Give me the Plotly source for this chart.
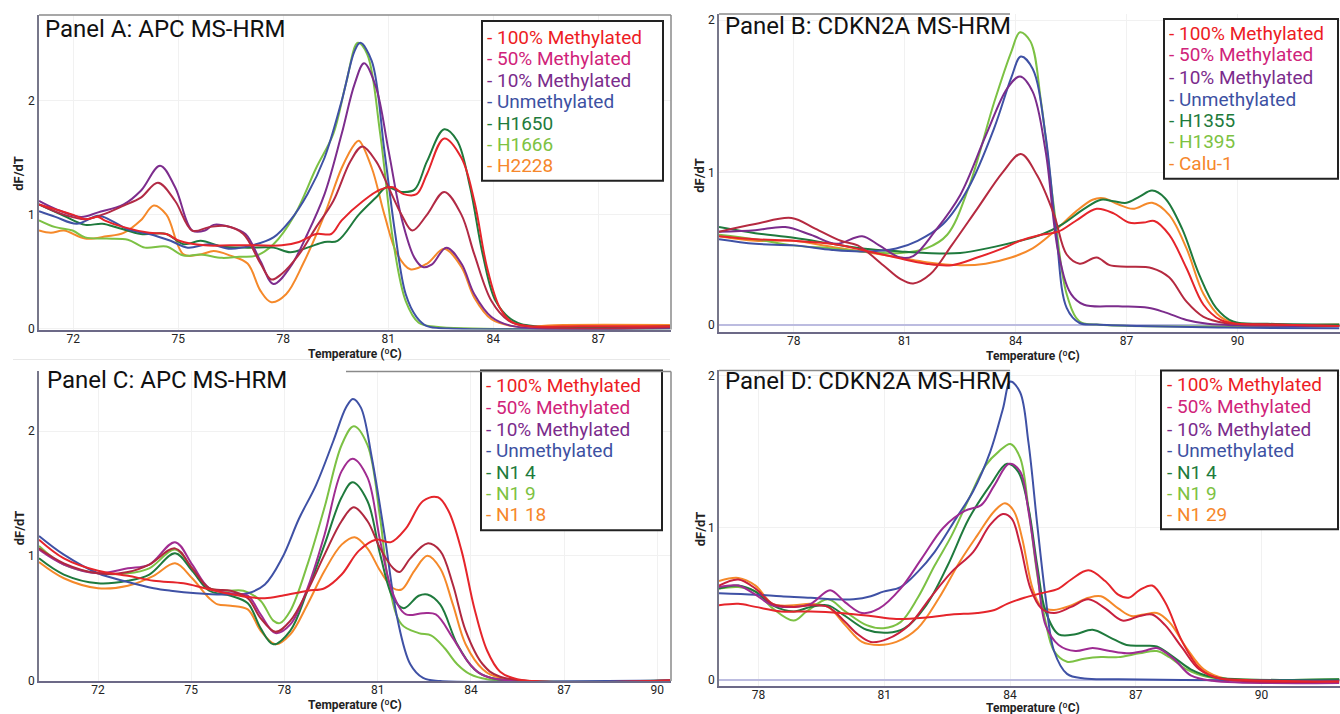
import plotly.graph_objects as go

# layout positions are measured on the 1340x714 reference; paper fractions use REF_H
W, REF_H = 1340, 714
H = 722   # the captured page is rendered slightly taller than the window and scaled to 714

# ---------------- labels / ticks ----------------
A_LABELS = ["100% Methylated", "50% Methylated", "10% Methylated", "Unmethylated", "H1650", "H1666", "H2228"]
B_LABELS = ["100% Methylated", "50% Methylated", "10% Methylated", "Unmethylated", "H1355", "H1395", "Calu-1"]
C_LABELS = ["100% Methylated", "50% Methylated", "10% Methylated", "Unmethylated", "N1 4", "N1 9", "N1 18"]
D_LABELS = ["100% Methylated", "50% Methylated", "10% Methylated", "Unmethylated", "N1 4", "N1 9", "N1 29"]
TITLES = ["Panel A: APC MS-HRM", "Panel B: CDKN2A MS-HRM", "Panel C: APC MS-HRM", "Panel D: CDKN2A MS-HRM"]
A_XTICKS = [72, 75, 78, 81, 84, 87]
B_XTICKS = [78, 81, 84, 87, 90]
C_XTICKS = [72, 75, 78, 81, 84, 87, 90]
D_XTICKS = [78, 81, 84, 87, 90]
Y_TICKS = [0, 1, 2]

# ---------------- Panel A (temperature, dF/dT) ----------------
A_100 = [(71.02,1.09),(71.98,1.0),(72.34,0.96),(72.71,0.98),(72.89,0.95),(73.44,0.89),(74.17,0.84),(74.66,0.83),(75.03,0.77),(75.76,0.73),(76.49,0.73),(77.23,0.73),(77.96,0.73),(78.45,0.76),(78.94,0.83),(79.37,0.83),(79.67,0.95),(80.28,1.12),(80.77,1.22),(81.14,1.24),(81.44,1.18),(81.81,1.18),(82.11,1.36),(82.60,1.67),(83.09,1.50),(83.46,1.12),(83.82,0.54),(84.19,0.18),(84.56,0.05),(85.04,0.02),(86.5,0.02),(89.05,0.02)]
A_50 = [(71.02,1.09),(71.73,1.0),(72.34,0.96),(72.83,1.0),(73.44,1.08),(73.93,1.15),(74.42,1.28),(74.91,1.12),(75.40,0.86),(75.88,0.89),(76.37,0.90),(76.86,0.83),(77.35,0.57),(77.66,0.43),(77.96,0.48),(78.45,0.65),(78.94,0.89),(79.43,1.12),(79.92,1.47),(80.26,1.60),(80.65,1.47),(81.01,1.24),(81.38,1.0),(81.69,0.86),(82.11,1.0),(82.60,1.20),(83.09,1.0),(83.46,0.65),(83.95,0.24),(84.43,0.07),(84.92,0.02),(89.05,0.01)]
A_10 = [(71.02,1.12),(71.49,1.05),(72.22,0.98),(72.71,1.02),(73.44,1.09),(73.93,1.21),(74.48,1.43),(74.91,1.24),(75.40,0.86),(75.76,0.86),(76.01,0.91),(76.49,0.89),(76.92,0.83),(77.35,0.59),(77.72,0.39),(78.20,0.54),(78.69,0.83),(79.18,1.18),(79.67,1.71),(80.04,2.15),(80.31,2.33),(80.65,2.12),(81.01,1.56),(81.38,0.97),(81.75,0.62),(81.99,0.54),(82.24,0.56),(82.66,0.71),(83.09,0.57),(83.46,0.30),(83.95,0.10),(84.56,0.02),(89.05,0.01)]
A_UN = [(71.02,1.03),(71.49,0.98),(72.10,0.92),(72.71,0.99),(73.07,0.95),(73.56,0.87),(74.17,0.83),(74.78,0.77),(75.27,0.71),(75.88,0.74),(76.49,0.70),(77.11,0.73),(77.72,0.80),(78.20,0.95),(78.69,1.18),(79.18,1.50),(79.67,2.0),(80.04,2.44),(80.20,2.51),(80.53,2.35),(80.89,1.56),(81.20,0.83),(81.50,0.30),(81.81,0.10),(82.11,0.02),(82.72,0.0),(89.05,0.0)]
A_S1 = [(71.02,1.09),(71.73,0.99),(72.34,0.91),(72.83,0.92),(73.32,0.88),(73.93,0.83),(74.66,0.83),(75.15,0.74),(75.64,0.77),(76.25,0.72),(76.98,0.71),(77.72,0.71),(78.20,0.67),(78.69,0.71),(79.18,0.76),(79.55,0.77),(80.16,1.0),(80.65,1.15),(80.95,1.24),(81.38,1.20),(81.75,1.22),(82.11,1.47),(82.60,1.75),(82.97,1.65),(83.34,1.24),(83.70,0.65),(84.07,0.24),(84.56,0.07),(85.17,0.02),(89.05,0.02)]
A_S2 = [(71.02,0.95),(71.49,0.89),(71.98,0.86),(72.34,0.80),(72.95,0.79),(73.56,0.78),(74.05,0.71),(74.66,0.72),(75.15,0.64),(75.64,0.65),(76.25,0.62),(76.74,0.63),(77.23,0.64),(77.72,0.74),(78.33,1.0),(78.94,1.41),(79.43,1.71),(79.79,2.15),(80.13,2.51),(80.40,2.41),(80.77,1.71),(81.14,0.77),(81.50,0.24),(81.87,0.05),(82.36,0.015),(89.05,0.0)]
A_S3 = [(71.02,0.86),(71.36,0.84),(71.73,0.86),(72.34,0.79),(72.95,0.81),(73.44,0.84),(73.93,0.95),(74.30,1.08),(74.66,1.0),(75.15,0.65),(75.64,0.65),(76.01,0.68),(76.49,0.64),(76.98,0.57),(77.35,0.33),(77.66,0.23),(78.08,0.30),(78.57,0.57),(79.18,1.0),(79.67,1.41),(80.04,1.62),(80.16,1.65),(80.53,1.41),(80.89,1.0),(81.26,0.65),(81.63,0.52),(82.11,0.57),(82.60,0.70),(83.09,0.54),(83.46,0.27),(83.95,0.08),(84.56,0.02),(86.0,0.03),(89.05,0.03)]

# ---------------- Panel B ----------------
B_100 = [(75.98,0.58),(76.96,0.56),(78.0,0.55),(79.04,0.53),(79.85,0.49),(80.77,0.44),(81.58,0.40),(82.27,0.39),(82.96,0.44),(83.65,0.50),(84.12,0.55),(84.69,0.59),(85.15,0.61),(85.62,0.68),(86.19,0.76),(86.65,0.73),(87.06,0.67),(87.46,0.67),(87.75,0.68),(88.15,0.59),(88.62,0.37),(89.08,0.13),(89.54,0.03),(90.0,0.005),(90.81,0.0),(92.75,-0.01)]
B_50 = [(75.98,0.61),(76.96,0.66),(77.94,0.70),(78.58,0.63),(79.27,0.55),(79.73,0.52),(80.42,0.39),(80.88,0.30),(81.23,0.27),(81.69,0.33),(82.27,0.52),(82.96,0.76),(83.65,1.0),(84.14,1.12),(84.58,0.98),(85.04,0.72),(85.38,0.46),(85.73,0.40),(86.19,0.44),(86.54,0.39),(87.0,0.38),(87.69,0.37),(88.15,0.31),(88.62,0.15),(89.08,0.05),(89.65,0.01),(90.81,0.0),(92.75,-0.01)]
B_10 = [(75.98,0.61),(76.96,0.62),(77.77,0.64),(78.46,0.59),(79.15,0.53),(79.85,0.58),(80.31,0.52),(80.88,0.44),(81.23,0.45),(81.81,0.61),(82.50,0.85),(83.19,1.24),(83.77,1.55),(84.12,1.63),(84.46,1.53),(84.81,1.14),(85.15,0.48),(85.50,0.20),(85.85,0.13),(86.77,0.12),(87.58,0.11),(88.04,0.08),(88.62,0.03),(89.19,0.005),(90.0,-0.005),(92.75,-0.01)]
B_UN = [(75.98,0.56),(76.96,0.53),(78.0,0.52),(79.04,0.49),(79.85,0.48),(80.77,0.50),(81.35,0.55),(82.04,0.66),(82.73,0.90),(83.42,1.29),(83.88,1.62),(84.14,1.76),(84.46,1.68),(84.81,1.24),(85.10,0.59),(85.38,0.11),(85.73,0.01),(86.19,0.0),(87.35,-0.01),(89.65,-0.02),(92.75,-0.025)]
B_S1 = [(75.98,0.64),(76.96,0.60),(78.0,0.57),(79.04,0.53),(79.85,0.50),(80.88,0.48),(81.58,0.47),(82.50,0.47),(83.42,0.51),(84.12,0.55),(84.69,0.59),(85.27,0.66),(85.85,0.76),(86.31,0.82),(86.65,0.81),(87.0,0.80),(87.35,0.84),(87.69,0.88),(88.04,0.83),(88.50,0.63),(88.96,0.33),(89.42,0.11),(89.88,0.02),(90.81,0.005),(92.75,0.0)]
B_S2 = [(75.98,0.59),(76.96,0.56),(78.0,0.52),(79.04,0.50),(79.85,0.48),(80.88,0.47),(81.58,0.50),(82.15,0.59),(82.73,0.90),(83.42,1.46),(83.88,1.79),(84.12,1.92),(84.40,1.86),(84.69,1.46),(85.04,0.76),(85.38,0.20),(85.73,0.02),(86.19,0.0),(92.75,-0.01)]
B_S3 = [(75.98,0.58),(76.96,0.55),(78.0,0.55),(79.04,0.51),(79.85,0.48),(80.88,0.44),(81.58,0.41),(82.50,0.39),(83.19,0.40),(83.88,0.44),(84.46,0.50),(85.04,0.61),(85.62,0.74),(86.08,0.82),(86.37,0.83),(86.77,0.79),(87.17,0.76),(87.69,0.80),(88.15,0.72),(88.62,0.50),(89.08,0.20),(89.54,0.05),(90.0,0.01),(92.75,0.0)]

# ---------------- Panel C ----------------
C_100 = [(70.10,1.13),(70.90,0.98),(72.0,0.88),(72.96,0.84),(73.79,0.80),(74.75,0.78),(75.44,0.74),(76.13,0.70),(76.82,0.67),(77.37,0.66),(77.92,0.68),(78.74,0.72),(79.29,0.74),(79.84,0.85),(80.39,1.04),(80.94,1.13),(81.43,1.11),(81.91,1.22),(82.46,1.44),(82.94,1.47),(83.28,1.36),(83.70,1.04),(84.11,0.58),(84.52,0.24),(84.94,0.07),(85.49,0.01),(90.41,0.0)]
C_50 = [(70.10,1.06),(70.90,0.94),(72.0,0.86),(72.96,0.87),(73.65,0.93),(74.48,1.06),(75.03,0.90),(75.58,0.74),(76.27,0.72),(76.82,0.66),(77.23,0.50),(77.71,0.39),(78.19,0.48),(78.74,0.72),(79.29,1.01),(79.84,1.28),(80.23,1.39),(80.67,1.28),(81.08,1.06),(81.50,0.90),(81.70,0.87),(82.05,0.98),(82.60,1.10),(83.01,1.04),(83.42,0.77),(83.83,0.40),(84.38,0.13),(84.94,0.03),(90.41,0.0)]
C_10 = [(70.10,1.05),(70.90,0.93),(72.0,0.86),(72.96,0.90),(73.65,0.93),(74.48,1.11),(75.03,0.93),(75.58,0.74),(76.27,0.70),(76.82,0.68),(77.23,0.53),(77.71,0.38),(78.19,0.45),(78.74,0.74),(79.29,1.17),(79.84,1.68),(80.19,1.78),(80.67,1.63),(81.08,1.12),(81.50,0.69),(81.91,0.53),(82.46,0.54),(82.87,0.53),(83.42,0.34),(83.97,0.13),(84.52,0.03),(90.41,0.0)]
C_UN = [(70.10,1.16),(70.90,1.01),(72.0,0.86),(72.96,0.79),(73.79,0.74),(74.34,0.72),(75.16,0.70),(75.99,0.69),(76.82,0.70),(77.37,0.77),(77.92,0.98),(78.47,1.30),(79.02,1.57),(79.57,1.92),(79.98,2.19),(80.20,2.26),(80.46,2.19),(80.81,1.79),(81.22,1.17),(81.63,0.50),(82.05,0.13),(82.46,0.02),(83.01,-0.005),(85.35,-0.01),(90.41,0.0)]
C_S1 = [(70.10,0.98),(70.90,0.85),(72.0,0.78),(72.96,0.80),(73.65,0.85),(74.48,1.02),(75.03,0.88),(75.58,0.72),(76.27,0.68),(76.82,0.62),(77.23,0.42),(77.64,0.29),(78.19,0.40),(78.74,0.72),(79.29,1.09),(79.84,1.47),(80.19,1.59),(80.67,1.44),(81.08,1.01),(81.50,0.66),(81.84,0.58),(82.32,0.68),(82.60,0.69),(83.01,0.61),(83.56,0.29),(84.11,0.09),(84.66,0.02),(90.41,0.0)]
C_S2 = [(70.10,1.08),(70.90,0.93),(72.0,0.86),(72.96,0.86),(73.65,0.90),(74.48,1.05),(75.03,0.90),(75.58,0.74),(76.13,0.72),(76.68,0.72),(77.23,0.64),(77.64,0.48),(77.85,0.46),(78.19,0.56),(78.74,0.93),(79.29,1.39),(79.84,1.89),(80.23,2.04),(80.67,1.89),(81.08,1.30),(81.36,0.77),(81.77,0.45),(82.32,0.38),(82.73,0.36),(83.15,0.26),(83.56,0.13),(83.97,0.05),(84.52,0.01),(90.41,0.0)]
C_S3 = [(70.10,0.95),(70.90,0.82),(72.0,0.74),(72.96,0.76),(73.79,0.84),(74.48,0.94),(75.03,0.82),(75.58,0.66),(75.85,0.61),(76.27,0.60),(76.82,0.57),(77.23,0.40),(77.71,0.29),(78.19,0.37),(78.74,0.61),(79.29,0.88),(79.84,1.09),(80.26,1.15),(80.67,1.06),(81.08,0.88),(81.50,0.74),(81.77,0.73),(82.18,0.88),(82.60,1.0),(83.01,0.90),(83.42,0.61),(83.83,0.29),(84.38,0.09),(84.94,0.02),(90.41,0.0)]

# ---------------- Panel D ----------------
D_100 = [(77.06,0.49),(77.52,0.50),(77.93,0.48),(78.54,0.45),(79.25,0.45),(79.96,0.44),(80.68,0.42),(81.29,0.40),(82.0,0.41),(82.61,0.43),(83.22,0.44),(83.63,0.46),(83.93,0.50),(84.34,0.54),(84.75,0.57),(85.16,0.60),(85.46,0.66),(85.87,0.72),(86.27,0.65),(86.58,0.56),(86.83,0.54),(87.09,0.59),(87.39,0.62),(87.70,0.51),(88.11,0.25),(88.51,0.08),(88.92,0.015),(89.63,0.0),(91.85,-0.01)]
D_50 = [(77.06,0.62),(77.52,0.66),(77.93,0.60),(78.34,0.50),(78.84,0.48),(79.25,0.49),(79.66,0.48),(80.07,0.38),(80.37,0.30),(80.68,0.25),(81.08,0.27),(81.59,0.36),(82.10,0.54),(82.61,0.71),(83.12,0.84),(83.53,1.02),(83.83,1.09),(84.04,1.06),(84.24,0.89),(84.49,0.60),(84.75,0.47),(85.05,0.44),(85.46,0.48),(85.87,0.53),(86.27,0.47),(86.68,0.39),(87.09,0.42),(87.39,0.43),(87.70,0.36),(88.11,0.21),(88.51,0.07),(89.02,0.01),(91.85,-0.01)]
D_10 = [(77.06,0.61),(77.52,0.62),(77.93,0.56),(78.34,0.49),(78.84,0.48),(79.25,0.50),(79.71,0.59),(80.07,0.51),(80.47,0.44),(80.88,0.47),(81.39,0.60),(81.90,0.80),(82.41,1.0),(82.92,1.11),(83.32,1.15),(83.63,1.28),(83.98,1.42),(84.24,1.37),(84.44,1.11),(84.65,0.71),(84.85,0.36),(85.16,0.23),(85.56,0.19),(85.97,0.21),(86.38,0.19),(86.78,0.175),(87.19,0.19),(87.50,0.21),(87.90,0.14),(88.31,0.03),(88.82,-0.005),(91.85,-0.02)]
D_UN = [(77.06,0.57),(77.93,0.56),(78.54,0.55),(79.25,0.54),(79.76,0.53),(80.27,0.53),(80.68,0.55),(80.98,0.58),(81.39,0.61),(81.80,0.71),(82.20,0.84),(82.71,1.06),(83.12,1.24),(83.53,1.50),(83.83,1.78),(84.01,1.96),(84.24,1.89),(84.44,1.56),(84.65,1.02),(84.85,0.54),(85.05,0.19),(85.36,0.04),(85.77,0.01),(86.58,0.005),(88.11,0.0),(91.85,-0.005)]
D_S1 = [(77.06,0.60),(77.52,0.62),(77.93,0.58),(78.34,0.49),(78.84,0.45),(79.25,0.48),(79.66,0.49),(80.07,0.42),(80.58,0.33),(81.08,0.31),(81.49,0.34),(82.0,0.49),(82.51,0.75),(83.02,1.06),(83.53,1.28),(83.93,1.42),(84.19,1.37),(84.44,1.13),(84.65,0.75),(84.85,0.45),(85.16,0.30),(85.56,0.30),(85.97,0.33),(86.38,0.28),(86.78,0.23),(87.19,0.225),(87.50,0.22),(87.90,0.15),(88.31,0.07),(88.82,0.02),(91.85,0.005)]
D_S2 = [(77.06,0.60),(77.52,0.61),(77.93,0.58),(78.34,0.47),(78.84,0.39),(79.15,0.45),(79.66,0.53),(80.07,0.45),(80.58,0.36),(80.98,0.34),(81.39,0.38),(81.80,0.54),(82.20,0.75),(82.61,0.95),(83.02,1.19),(83.42,1.41),(83.73,1.50),(84.01,1.55),(84.24,1.46),(84.44,1.13),(84.65,0.69),(84.85,0.38),(85.05,0.19),(85.36,0.12),(85.77,0.14),(86.17,0.15),(86.58,0.15),(87.09,0.175),(87.50,0.19),(87.80,0.15),(88.21,0.07),(88.72,0.02),(91.85,0.005)]
D_S3 = [(77.06,0.65),(77.52,0.67),(77.93,0.62),(78.34,0.50),(78.84,0.49),(79.25,0.50),(79.66,0.48),(80.07,0.36),(80.47,0.25),(80.88,0.23),(81.29,0.25),(81.80,0.34),(82.31,0.54),(82.81,0.78),(83.22,0.95),(83.63,1.11),(83.88,1.16),(84.09,1.11),(84.29,0.93),(84.54,0.60),(84.75,0.48),(85.05,0.46),(85.46,0.49),(85.87,0.54),(86.17,0.55),(86.58,0.47),(86.89,0.42),(87.19,0.43),(87.50,0.44),(87.80,0.38),(88.21,0.21),(88.62,0.07),(89.12,0.01),(91.85,0.0)]

# ---------------- styling ----------------
TEXT_COLORS = ["#ED1C24", "#D0237A", "#7B2C8C", "#3D51A2", "#1E7B3C", "#7DC242", "#F6872B"]
A_COLORS = ["#E5252B", "#B22A45", "#7D2D8D", "#3F51A5", "#1F7A3D", "#7CC144", "#F5892A"]
B_COLORS = ["#E5252B", "#B52A40", "#7B2C8C", "#3F51A5", "#1F7A3D", "#7CC144", "#F5892A"]
C_COLORS = ["#E5252B", "#B0283F", "#A12C91", "#3F51A5", "#1F7A3D", "#7CC144", "#F5892A"]
D_COLORS = ["#E5252B", "#C8203E", "#9E2B92", "#3F51A5", "#1F7A3D", "#7CC144", "#F5892A"]
FONT = "Roboto, Arial, sans-serif"


def fx(px):
    return px / W


def fy(py):
    return 1 - py / REF_H


panels = [
    dict(series=[A_100, A_50, A_10, A_UN, A_S1, A_S2, A_S3], colors=A_COLORS, labels=A_LABELS,
         xr=[71.02, 89.08], yr=[-0.01, 2.755], xt=A_XTICKS, box=(39, 671, 13, 328), zl=False,
         leg=(482, 663, 19, 179), legx=485, rows=[36, 57, 79, 100, 122, 143, 164],
         title=(43, 27), xtitle=(355, 352), ytitle=(19, 172)),
    dict(series=[B_100, B_50, B_10, B_UN, B_S1, B_S2, B_S3], colors=B_COLORS, labels=B_LABELS,
         xr=[75.98, 92.77], yr=[-0.046, 2.04], xt=B_XTICKS, box=(719, 1340, 12, 330), zl=True,
         leg=(1164, 1338, 17, 177), legx=1167, rows=[32, 53, 76, 98, 119, 140, 162],
         title=(723, 24), xtitle=(1033, 354), ytitle=(700, 173)),
    dict(series=[C_100, C_50, C_10, C_UN, C_S1, C_S2, C_S3], colors=C_COLORS, labels=C_LABELS,
         xr=[70.10, 90.44], yr=[-0.005, 2.48], xt=C_XTICKS, box=(39, 671, 370, 680), zl=False,
         leg=(481, 662, 369, 529), legx=484, rows=[384, 406, 428, 449, 471, 492, 513],
         title=(45, 379), xtitle=(355, 704), ytitle=(19, 527)),
    dict(series=[D_100, D_50, D_10, D_UN, D_S1, D_S2, D_S3], colors=D_COLORS, labels=D_LABELS,
         xr=[77.06, 91.87], yr=[-0.04, 2.033], xt=D_XTICKS, box=(719, 1340, 369, 685), zl=True,
         leg=(1161, 1338, 369, 528), legx=1165, rows=[383, 405, 428, 449, 471, 492, 513],
         title=(723, 380), xtitle=(1033, 707), ytitle=(700, 527)),
]

fig = go.Figure()
shapes = []
annotations = []
draw_order = [6, 5, 4, 3, 2, 1, 0]

for i, p in enumerate(panels):
    sfx = "" if i == 0 else str(i + 1)
    xa, ya = "x" + sfx, "y" + sfx
    for k in draw_order:
        pts = p["series"][k]
        fig.add_trace(go.Scatter(
            x=[t for t, v in pts], y=[v for t, v in pts], mode="lines",
            line=dict(color=p["colors"][k], width=2, shape="spline", smoothing=1.0),
            xaxis=xa, yaxis=ya, showlegend=False, hoverinfo="skip"))
    x0, x1, y0, y1 = p["box"]
    fig.layout["xaxis" + sfx] = dict(
        domain=[fx(x0), min(1.0, fx(x1))], range=p["xr"], anchor=ya, tickvals=p["xt"],
        showgrid=True, gridcolor="#f1f1f1", gridwidth=1, zeroline=False,
        showline=True, linecolor="#6c6987", linewidth=2, ticks="", ticklabelstandoff=-3,
        tickfont=dict(family=FONT, size=12, color="#222"))
    fig.layout["yaxis" + sfx] = dict(
        domain=[fy(y1), fy(y0)], range=p["yr"], anchor=xa, tickvals=Y_TICKS,
        showgrid=True, gridcolor="#f1f1f1", gridwidth=1,
        zeroline=p["zl"], zerolinecolor="#bcbce0", zerolinewidth=2,
        showline=True, linecolor="#77778a", linewidth=1.5, ticks="",
        tickfont=dict(family=FONT, size=12, color="#222"))

    # legend box
    lx0, lx1, ly0, ly1 = p["leg"]
    shapes.append(dict(type="rect", xref="paper", yref="paper", x0=fx(lx0), x1=fx(lx1),
                       y0=fy(ly1), y1=fy(ly0), line=dict(color="#222", width=2),
                       fillcolor="white", layer="above"))
    for lab, col, ry in zip(p["labels"], TEXT_COLORS, p["rows"]):
        annotations.append(dict(xref="paper", yref="paper", x=fx(p["legx"]), y=fy(ry),
                                xanchor="left", yanchor="middle", showarrow=False,
                                text="- " + lab, font=dict(family=FONT, size=19, color=col)))
    # titles
    tx, ty = p["title"]
    annotations.append(dict(xref="paper", yref="paper", x=fx(tx), y=fy(ty), xanchor="left",
                            yanchor="middle", showarrow=False, text=TITLES[i],
                            font=dict(family=FONT, size=24, color="#111")))
    ax, ay = p["xtitle"]
    annotations.append(dict(xref="paper", yref="paper", x=fx(ax), y=fy(ay), xanchor="center",
                            yanchor="middle", showarrow=False, text="<b>Temperature (ºC)</b>",
                            font=dict(family=FONT, size=12, color="#222")))
    yx, yy = p["ytitle"]
    annotations.append(dict(xref="paper", yref="paper", x=fx(yx), y=fy(yy), xanchor="center",
                            yanchor="middle", showarrow=False, text="<b>dF/dT</b>", textangle=-90,
                            font=dict(family=FONT, size=13, color="#222")))

# frame lines (top / right borders of the plot areas)
border = dict(color="#8a8a8a", width=1.5)
for (ax0, ax1, ay0, ay1) in [(39, 671, 13, 13), (671, 671, 13, 328), (719, 1010, 12, 12),
                             (346, 671, 370, 370), (671, 671, 370, 680), (719, 1010, 369, 369)]:
    shapes.append(dict(type="line", xref="paper", yref="paper", x0=fx(ax0), x1=fx(ax1),
                       y0=fy(ay0), y1=fy(ay1), line=border))
shapes.append(dict(type="line", xref="paper", yref="paper", x0=fx(13), x1=fx(670),
                   y0=fy(358), y1=fy(358), line=dict(color="#e8e8e8", width=1)))

fig.update_layout(width=W, height=H, margin=dict(l=0, r=0, t=0, b=0),
                  paper_bgcolor="white", plot_bgcolor="white",
                  shapes=shapes, annotations=annotations, showlegend=False)

# remove the browser's default page margin so the figure starts at the window corner
fig.write_html("out.html", config={"displayModeBar": False},
               post_script="document.body.style.margin='0px';")
